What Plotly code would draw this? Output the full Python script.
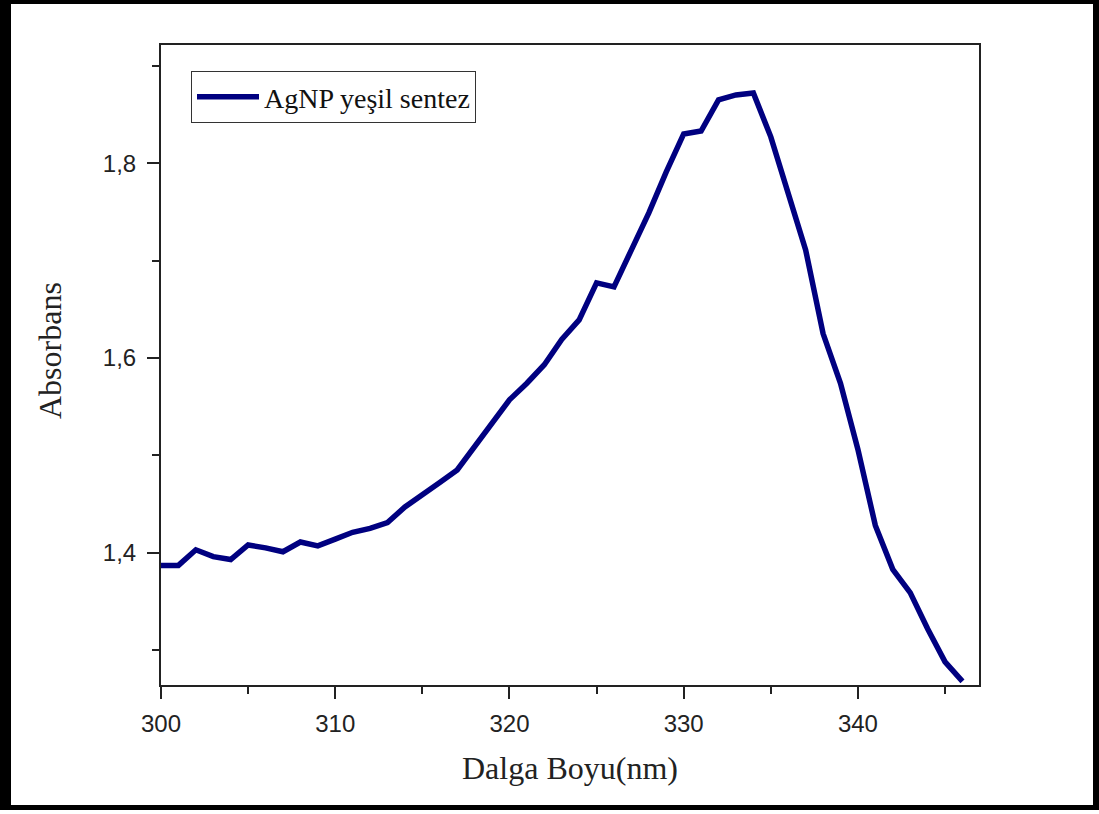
import plotly.graph_objects as go

# ---- data ----
wavelength_nm = list(range(300, 347))
absorbance = [
    1.387, 1.387, 1.403, 1.396, 1.393, 1.408, 1.405, 1.401, 1.411, 1.407,
    1.414, 1.421, 1.425, 1.431, 1.447, 1.459, 1.472, 1.485, 1.509, 1.533,
    1.557, 1.574, 1.593, 1.619, 1.639, 1.677, 1.673, 1.711, 1.749, 1.791,
    1.830, 1.833, 1.865, 1.870, 1.872, 1.827, 1.768, 1.711, 1.625, 1.574,
    1.506, 1.428, 1.383, 1.359, 1.322, 1.288, 1.268,
]
series_name = "AgNP yeşil sentez"
x_title = "Dalga Boyu(nm)"
y_title = "Absorbans"

# ---- layout geometry (pixels) ----
W, H = 1099, 814
L, R, T, B = 161, 979, 45, 685


def px_x(p):
    return (p - L) / (R - L)


def px_y(p):
    return (B - p) / (B - T)


fig = go.Figure()
fig.add_trace(go.Scatter(
    x=wavelength_nm, y=absorbance, mode="lines", name=series_name,
    line=dict(color="#000080", width=5.5),
))

axis_common = dict(
    showline=True, linecolor="#222", linewidth=2, mirror=True,
    ticks="outside", ticklen=12, tickwidth=2, tickcolor="#222",
    showgrid=False, zeroline=False,
    tickfont=dict(family="Liberation Sans, Arial", size=24, color="#222"),
)

fig.update_xaxes(
    range=[300, 346.95], dtick=10, tick0=300,
    minor=dict(dtick=5, ticks="outside", ticklen=7, tickwidth=2, tickcolor="#222"),
    ticklabelstandoff=4,
    **axis_common,
)
fig.update_yaxes(
    range=[1.2642, 1.9213], dtick=0.2, tick0=1.4, tickformat=".1f",
    minor=dict(dtick=0.1, ticks="outside", ticklen=7, tickwidth=2, tickcolor="#222"),
    ticklabelstandoff=6,
    **axis_common,
)

title_font = dict(family="Liberation Serif, Times New Roman", size=32, color="#222")
annotations = [
    dict(text=x_title, xref="paper", yref="paper", x=px_x(570), y=px_y(768),
         xanchor="center", yanchor="middle", showarrow=False, font=title_font),
    dict(text=y_title, xref="paper", yref="paper", x=px_x(50), y=px_y(351),
         xanchor="center", yanchor="middle", showarrow=False, textangle=-90,
         font=title_font),
]

# outer black frame around the whole picture
frame_rects = [
    (0, 0, 11, 810),      # left
    (0, 0, 1099, 4),      # top
    (1093, 0, 1099, 810),  # right
    (0, 805, 1099, 810),  # bottom
]
shapes = []
for x0, y0, x1, y1 in frame_rects:
    shapes.append(dict(
        type="rect", xref="paper", yref="paper",
        x0=px_x(x0), x1=px_x(x1), y0=px_y(y1), y1=px_y(y0),
        fillcolor="black", line=dict(width=0), layer="above",
    ))

fig.update_layout(
    width=W, height=H,
    margin=dict(l=L, r=W - R, t=T, b=H - B),
    paper_bgcolor="white", plot_bgcolor="white",
    separators=",.",
    showlegend=True,
    legend=dict(
        x=px_x(191), y=px_y(71), xanchor="left", yanchor="top",
        bgcolor="white", bordercolor="#333", borderwidth=1,
        font=dict(family="Liberation Serif, Times New Roman", size=28, color="#111"),
        itemwidth=62,
    ),
    shapes=shapes,
    annotations=annotations,
)

fig.write_html("out.html")
